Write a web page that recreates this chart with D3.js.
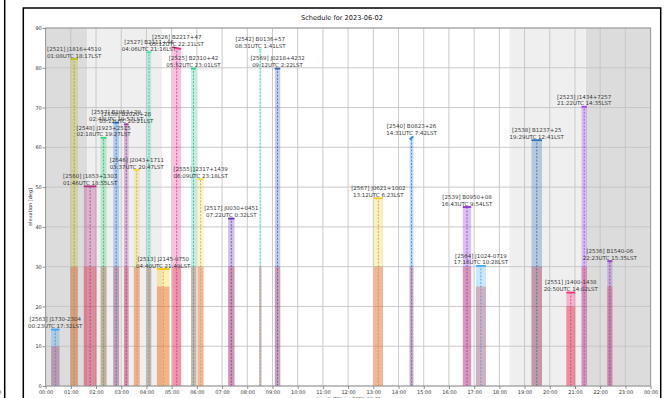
<!DOCTYPE html>
<html>
<head>
<meta charset="utf-8">
<script src="https://cdn.jsdelivr.net/npm/d3@7"></script>
<style>
  html, body { margin: 0; padding: 0; background: #fff; overflow: hidden; }
  svg { display: block; font-family: "DejaVu Sans", sans-serif; }
</style>
</head>
<body>
<svg id="chart" width="666" height="398"></svg>
<script>
// ---- schedule data ----
const obsIds    = [2563, 2521, 2560, 2548, 2557, 2558, 2546, 2527, 2526, 2525, 2513, 2555,
                   2517, 2542, 2569, 2567, 2540, 2539, 2564, 2538, 2551, 2523, 2536];
const sources   = ["J1730-2304", "J1816+4510", "J1853+1303", "J1923+2515", "B1953+29", "B2020+28",
                   "J2043+1711", "B2111+46", "B2217+47", "B2310+42", "J2145-0750", "J2317+1439",
                   "J0030+0451", "B0136+57", "J0218+4232", "J0621+1002", "B0823+26", "B0950+08",
                   "J1024-0719", "B1237+25", "J1400-1438", "J1434+7257", "B1540-06"];
const utcTimes  = ["00:23", "01:08", "01:46", "02:18", "02:48", "03:12", "03:37", "04:06", "05:12",
                   "05:52", "04:40", "06:09", "07:22", "08:31", "09:12", "13:12", "14:31", "16:43",
                   "17:16", "19:29", "20:50", "21:22", "22:23"];
const lstTimes  = ["17:32", "18:17", "18:55", "19:27", "19:57", "20:21", "20:47", "21:16", "22:21",
                   "23:01", "21:49", "23:18", "0:32", "1:41", "2:22", "6:23", "7:42", "9:54",
                   "10:28", "12:41", "14:02", "14:35", "15:35"];
// observation length in minutes
const durations = [20, 18, 30, 14, 14, 11, 14, 11, 21, 12, 30, 14, 15, 6, 13, 22, 9, 20, 24, 25, 21, 13, 12];
// elevation (deg) at the start and end of each observation
const elevStart = [14.2, 82.2, 50.2, 62.4, 66.2, 65.8, 54.3, 83.9, 85.2, 79.8, 29.4, 52.0,
                   42.1, 84.6, 79.8, 47.2, 62.0, 45.0, 30.2, 61.8, 23.5, 70.2, 31.4];
const elevEnd   = [14.2, 82.2, 50.2, 62.4, 66.2, 65.8, 54.3, 83.9, 84.7, 79.8, 29.4, 52.0,
                   42.1, 84.6, 79.8, 47.2, 62.7, 45.0, 30.2, 61.8, 23.5, 70.2, 31.4];
// low-elevation part of each track (deg)
const lowElev   = [10, 30, 30, 30, 30, 30, 30, 30, 30, 30, 25, 30,
                   30, 30, 30, 30, 30, 30, 25, 30, 20, 30, 25];

// night and twilight periods (UTC hours)
const nightPeriods    = [[0, 1.65], [21.43, 24]];
const twilightPeriods = [[1.65, 4.615], [18.4, 21.43]];

const hourTicks = d3.range(0, 25);
const elevTicks = d3.range(0, 91, 10);

// ---- styling ----
const sourceColors = ["#3aa6ee", "#bcbd22", "#b0307a", "#2fd872", "#2a7fd8", "#a03c96",
                      "#f2d83a", "#3ee0b0", "#f0308a", "#22d68e", "#f7c800", "#f5dc40",
                      "#6030b0", "#6ef0c8", "#3060c0", "#f5cc20", "#2a88e0", "#8a30d8",
                      "#48b4f4", "#2a6fb0", "#ff2a7a", "#a048ee", "#9040c8"];
const lowColor = "#e03030";

const svg = d3.select("#chart");
const pL = 45.6, pR = 650.6, pT = 28, pB = 386;

const x = d3.scaleLinear().domain([0, 24]).range([pL, pR]);
const y = d3.scaleLinear().domain([0, 90]).range([pB, pT]);

const hm = s => { const [h, m] = s.split(":").map(Number); return h + m / 60; };
const pad = n => String(n).padStart(2, "0");

// neighbouring panel edge
svg.append("line").attr("x1", 4.7).attr("x2", 4.7).attr("y1", 0).attr("y2", 398)
  .attr("stroke", "#000").attr("stroke-width", 1.5);
svg.append("text").attr("x", -2).attr("y", 393.5).attr("font-size", 5).attr("fill", "#333").text("0");

// figure frame
svg.append("rect").attr("x", 23.3).attr("y", 8).attr("width", 637.4).attr("height", 420)
  .attr("fill", "none").attr("stroke", "#000").attr("stroke-width", 1.5);

// title
svg.append("text").attr("x", 342).attr("y", 19.6).attr("text-anchor", "middle")
  .attr("font-size", 6.6).attr("fill", "#111").text("Schedule for 2023-06-02");

const plot = svg.append("g");

// dark / twilight shading
plot.selectAll("rect.night").data(nightPeriods).join("rect").attr("class", "night")
  .attr("x", d => x(d[0])).attr("width", d => x(d[1]) - x(d[0]))
  .attr("y", pT).attr("height", pB - pT).attr("fill", "#dcdcdc");
plot.selectAll("rect.twi").data(twilightPeriods).join("rect").attr("class", "twi")
  .attr("x", d => x(d[0])).attr("width", d => x(d[1]) - x(d[0]))
  .attr("y", pT).attr("height", pB - pT).attr("fill", "#efefef");

// grid
plot.selectAll("line.vg").data(hourTicks).join("line").attr("class", "vg")
  .attr("x1", d => x(d)).attr("x2", d => x(d)).attr("y1", pT).attr("y2", pB)
  .attr("stroke", "#c4c4c4").attr("stroke-width", 0.9);
plot.selectAll("line.hg").data(elevTicks).join("line").attr("class", "hg")
  .attr("x1", pL).attr("x2", pR).attr("y1", d => y(d)).attr("y2", d => y(d))
  .attr("stroke", "#c4c4c4").attr("stroke-width", 0.9);

// observations
const obs = obsIds.map((id, i) => {
  const c = hm(utcTimes[i]);
  const half = durations[i] / 120;
  return {
    id, name: sources[i], utc: utcTimes[i], lst: lstTimes[i],
    center: c, start: c - half, end: c + half,
    e0: elevStart[i], e1: elevEnd[i], peak: Math.max(elevStart[i], elevEnd[i]),
    low: lowElev[i], color: sourceColors[i]
  };
});

const g = plot.selectAll("g.obs").data(obs).join("g").attr("class", "obs");
g.append("rect")
  .attr("x", d => x(d.start)).attr("width", d => x(d.end) - x(d.start))
  .attr("y", d => y(d.peak)).attr("height", d => y(0) - y(d.peak))
  .attr("fill", d => d.color).attr("fill-opacity", 0.3);
g.append("rect")
  .attr("x", d => x(d.start)).attr("width", d => x(d.end) - x(d.start))
  .attr("y", d => y(d.low)).attr("height", d => y(0) - y(d.low))
  .attr("fill", lowColor).attr("fill-opacity", 0.3);
g.append("line")
  .attr("x1", d => x(d.center)).attr("x2", d => x(d.center))
  .attr("y1", y(0)).attr("y2", d => y(d.peak))
  .attr("stroke", d => d3.interpolateRgb(d.color, "#7b4fc4")(0.4))
  .attr("stroke-width", 0.8).attr("stroke-dasharray", "2,1.4");
g.append("line")
  .attr("x1", d => x(d.start)).attr("x2", d => x(d.end))
  .attr("y1", d => y(d.e0)).attr("y2", d => y(d.e1))
  .attr("stroke", d => d.color).attr("stroke-width", 1.8);

// labels
const lab = plot.selectAll("text.lab").data(obs).join("text").attr("class", "lab")
  .attr("text-anchor", "middle").attr("font-size", 5.5).attr("fill", "#3a3a3a");
lab.append("tspan").attr("x", d => x(d.center)).attr("y", d => y(d.peak) - 8.2)
  .text(d => `[${d.id}] ${d.name}`);
lab.append("tspan").attr("x", d => x(d.center)).attr("y", d => y(d.peak) - 1.5)
  .text(d => `${d.utc}UTC ${d.lst}LST`);

// axes frame
plot.append("rect").attr("x", pL).attr("y", pT).attr("width", pR - pL).attr("height", pB - pT)
  .attr("fill", "none").attr("stroke", "#9a9a9a").attr("stroke-width", 1);

const xAxis = svg.append("g").attr("transform", `translate(0,${pB})`)
  .call(d3.axisBottom(x).tickValues(hourTicks).tickFormat(h => pad(h % 24) + ":00")
    .tickSize(3).tickPadding(1.2));
const yAxis = svg.append("g").attr("transform", `translate(${pL},0)`)
  .call(d3.axisLeft(y).tickValues(elevTicks).tickFormat(d3.format("d"))
    .tickSize(3).tickPadding(0.8));
[xAxis, yAxis].forEach(a => {
  a.select(".domain").remove();
  a.selectAll(".tick line").attr("stroke", "#777").attr("stroke-width", 0.8);
  a.selectAll(".tick text").attr("font-size", 5).attr("fill", "#333")
    .attr("font-family", "DejaVu Sans, sans-serif");
});

// axis titles
svg.append("text").attr("transform", `translate(31.8,${(pT + pB) / 2}) rotate(-90)`)
  .attr("text-anchor", "middle").attr("font-size", 5).attr("fill", "#333").text("elevation [deg]");
svg.append("text").attr("x", (pL + pR) / 2).attr("y", 401).attr("text-anchor", "middle")
  .attr("font-size", 5).attr("fill", "#555").text("time [UTC] for 2023-06-02");
</script>
</body>
</html>
